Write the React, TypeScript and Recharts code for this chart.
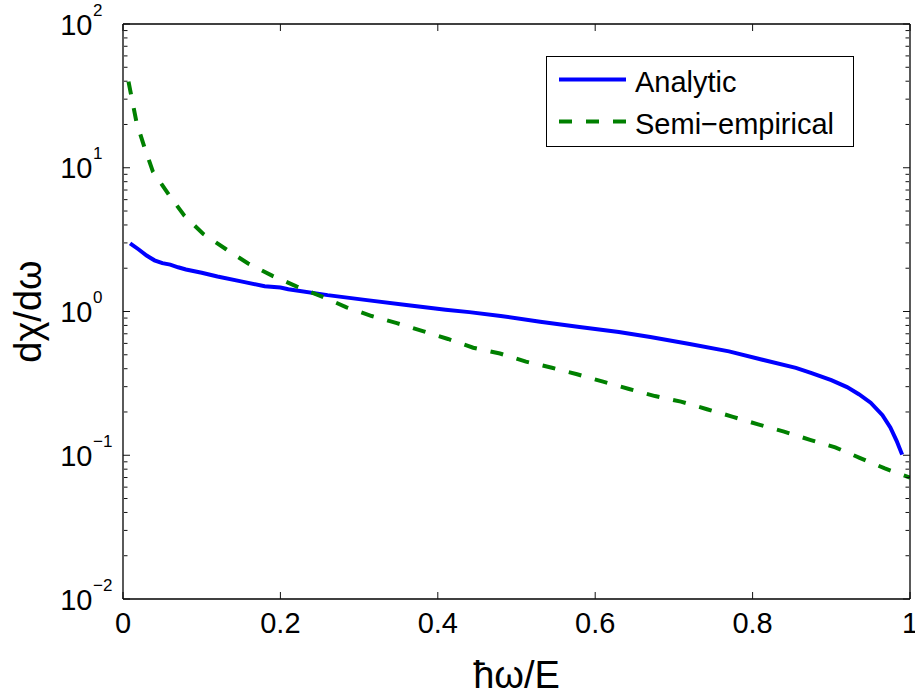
import React from 'react';
import { LineChart, Line, XAxis, YAxis, Legend, Label } from 'recharts';

// ---------- data ----------
const analyticX = [0.009, 0.02, 0.03, 0.04, 0.05, 0.06, 0.07, 0.08, 0.1, 0.12, 0.15, 0.18, 0.2, 0.21, 0.26, 0.31, 0.36, 0.41, 0.44, 0.48, 0.53, 0.58, 0.63, 0.67, 0.72, 0.77, 0.81, 0.855, 0.875, 0.9, 0.92, 0.935, 0.95, 0.965, 0.975, 0.983, 0.99];
const analyticY = [2.98, 2.7, 2.45, 2.27, 2.17, 2.12, 2.03, 1.96, 1.86, 1.75, 1.62, 1.5, 1.47, 1.43, 1.3, 1.2, 1.11, 1.03, 0.99, 0.93, 0.85, 0.78, 0.72, 0.665, 0.595, 0.528, 0.465, 0.405, 0.373, 0.333, 0.298, 0.266, 0.232, 0.19, 0.156, 0.126, 0.101];

const semiX = [0.007, 0.017, 0.027, 0.038, 0.058, 0.078, 0.102, 0.131, 0.159, 0.19, 0.221, 0.253, 0.284, 0.316, 0.348, 0.381, 0.413, 0.445, 0.479, 0.512, 0.545, 0.577, 0.61, 0.643, 0.676, 0.709, 0.742, 0.775, 0.807, 0.84, 0.873, 0.905, 0.936, 0.968, 1.0];
const semiY = [39.7, 20.9, 14.0, 9.4, 6.53, 4.64, 3.46, 2.71, 2.16, 1.77, 1.49, 1.27, 1.07, 0.93, 0.83, 0.73, 0.644, 0.56, 0.51, 0.448, 0.406, 0.366, 0.325, 0.289, 0.258, 0.236, 0.209, 0.185, 0.164, 0.146, 0.128, 0.1135, 0.096, 0.081, 0.07];

const seriesNames = ['Analytic', 'Semi\u2212empirical'];
const seriesColors = ['#0000ff', '#008000'];

const xTicks = [0, 0.2, 0.4, 0.6, 0.8, 1];
const xTickLabels = ['0', '0.2', '0.4', '0.6', '0.8', '1'];
const yMajorTicks = [0.01, 0.1, 1, 10, 100];
const yExponents = ['\u22122', '\u22121', '0', '1', '2'];
const yMinorMultipliers = [2, 3, 4, 5, 6, 7, 8, 9];
const yMinorTicks = [0.01, 0.1, 1, 10].flatMap((d) => yMinorMultipliers.map((m) => m * d));

const xLabel = '\u0127\u03c9/E';
const yLabel = 'd\u03c7/d\u03c9';

const analyticData = analyticX.map((x, i) => ({ x, y: analyticY[i] }));
const semiData = semiX.map((x, i) => ({ x, y: semiY[i] }));

// ---------- styles ----------
const FONT = '"Liberation Sans", Arial, Helvetica, sans-serif';
const TICK_FS = 29;
const SUP_FS = 17;
const LABEL_FS = 38;
const LEGEND_FS = 29;
const AXIS_STROKE = { stroke: '#000', strokeWidth: 1.3 };
const TICK_STROKE = { stroke: '#111', strokeWidth: 1 };

const EmptyTick = () => <g />;

const YTick = (props: any) => {
  const { x, y, payload } = props;
  const i = yMajorTicks.indexOf(payload.value);
  if (i < 0) return <g />;
  return (
    <g>
      <text x={x} y={y + 10.5} textAnchor="end" fontSize={TICK_FS} fontFamily={FONT} fill="#000">10</text>
      <text x={x + 0.5} y={y - 8.5} textAnchor="start" fontSize={SUP_FS} fontFamily={FONT} fill="#000">{yExponents[i]}</text>
    </g>
  );
};

const XTick = (props: any) => {
  const { x, y, payload } = props;
  const i = xTicks.indexOf(payload.value);
  return (
    <text x={x} y={y + 20} textAnchor="middle" fontSize={TICK_FS} fontFamily={FONT} fill="#000">
      {i >= 0 ? xTickLabels[i] : String(payload.value)}
    </text>
  );
};

const LegendBox = (props: any) => {
  const payload = (props && props.payload) || [];
  const entries = seriesNames.map((name, i) => {
    const p = payload.find((e: any) => e.value === name);
    return {
      name,
      color: p ? p.color : seriesColors[i],
      dash: p && p.payload ? p.payload.strokeDasharray : undefined,
    };
  });
  return (
    <svg width={308} height={91} style={{ display: 'block' }}>
      <rect x={0.5} y={0.5} width={307} height={90} fill="#fff" stroke="#000" strokeWidth={1} />
      {entries.map((e, i) => {
        const cy = 23.5 + i * 42;
        return (
          <g key={e.name}>
            <line x1={13} x2={80} y1={cy} y2={cy} stroke={e.color} strokeWidth={4} strokeDasharray={e.dash} />
            <text x={89} y={cy + 12.5} fontSize={LEGEND_FS} fontFamily={FONT} fill="#000">{e.name}</text>
          </g>
        );
      })}
    </svg>
  );
};

export default function App() {
  const yCommon = {
    type: 'number' as const,
    scale: 'log' as const,
    domain: [0.01, 100],
    allowDataOverflow: true,
    interval: 0 as const,
  };
  const xCommon = {
    type: 'number' as const,
    dataKey: 'x',
    domain: [0, 1],
    allowDataOverflow: true,
    ticks: xTicks,
    interval: 0 as const,
  };
  return (
    <div style={{ position: 'absolute', left: 0, top: 0, width: 915, height: 698, background: '#fff' }}>
      <LineChart width={915} height={698} margin={{ top: 24, right: 5, left: 0, bottom: 0 }}>
        {/* x axes */}
        <XAxis
          {...xCommon}
          xAxisId="bottom"
          orientation="bottom"
          height={99}
          tickLine={false}
          tickSize={0}
          tickMargin={14}
          axisLine={AXIS_STROKE}
          tick={<XTick />}
        >
          <Label
            content={(p: any) => {
              const vb = p.viewBox || { x: 123, y: 599, width: 787, height: 99 };
              return (
                <text x={vb.x + vb.width / 2} y={vb.y + 89} textAnchor="middle" fontSize={LABEL_FS} fontFamily={FONT} fill="#000">
                  {xLabel}
                </text>
              );
            }}
          />
        </XAxis>
        <XAxis {...xCommon} xAxisId="bottomTicks" orientation="bottom" mirror height={1} tickSize={7} tick={<EmptyTick />} axisLine={false} tickLine={TICK_STROKE} />
        <XAxis {...xCommon} xAxisId="top" orientation="top" mirror height={1} tickSize={7} tick={<EmptyTick />} axisLine={AXIS_STROKE} tickLine={TICK_STROKE} />

        {/* y axes */}
        <YAxis
          {...yCommon}
          yAxisId="left"
          orientation="left"
          width={123}
          ticks={yMajorTicks}
          tickLine={false}
          tickSize={0}
          tickMargin={30.5}
          axisLine={AXIS_STROKE}
          tick={<YTick />}
        >
          <Label
            content={(p: any) => {
              const vb = p.viewBox || { x: 0, y: 24, width: 123, height: 575 };
              const cx = vb.x + 41;
              const cy = vb.y + vb.height / 2;
              return (
                <text x={cx} y={cy} transform={`rotate(-90, ${cx}, ${cy})`} textAnchor="middle" fontSize={LABEL_FS} fontFamily={FONT} fill="#000">
                  {yLabel}
                </text>
              );
            }}
          />
        </YAxis>
        <YAxis {...yCommon} yAxisId="leftMajor" orientation="left" mirror width={1} ticks={yMajorTicks} tickSize={7} tick={<EmptyTick />} axisLine={false} tickLine={TICK_STROKE} />
        <YAxis {...yCommon} yAxisId="leftMinor" orientation="left" mirror width={1} ticks={yMinorTicks} tickSize={3.5} tick={<EmptyTick />} axisLine={false} tickLine={TICK_STROKE} />
        <YAxis {...yCommon} yAxisId="rightMajor" orientation="right" mirror width={1} ticks={yMajorTicks} tickSize={7} tick={<EmptyTick />} axisLine={AXIS_STROKE} tickLine={TICK_STROKE} />
        <YAxis {...yCommon} yAxisId="rightMinor" orientation="right" mirror width={1} ticks={yMinorTicks} tickSize={3.5} tick={<EmptyTick />} axisLine={false} tickLine={TICK_STROKE} />

        <Line
          data={analyticData}
          dataKey="y"
          name={seriesNames[0]}
          xAxisId="bottom"
          yAxisId="left"
          type="linear"
          stroke={seriesColors[0]}
          strokeWidth={4}
          dot={false}
          activeDot={false}
          isAnimationActive={false}
        />
        <Line
          data={semiData}
          dataKey="y"
          name={seriesNames[1]}
          xAxisId="bottom"
          yAxisId="left"
          type="linear"
          stroke={seriesColors[1]}
          strokeWidth={4}
          strokeDasharray="13 14"
          dot={false}
          activeDot={false}
          isAnimationActive={false}
        />

        <Legend
          layout="vertical"
          align="center"
          verticalAlign="middle"
          wrapperStyle={{ left: 546, top: 56, width: 308, height: 91 }}
          content={(p: any) => <LegendBox {...p} />}
        />
      </LineChart>
    </div>
  );
}
